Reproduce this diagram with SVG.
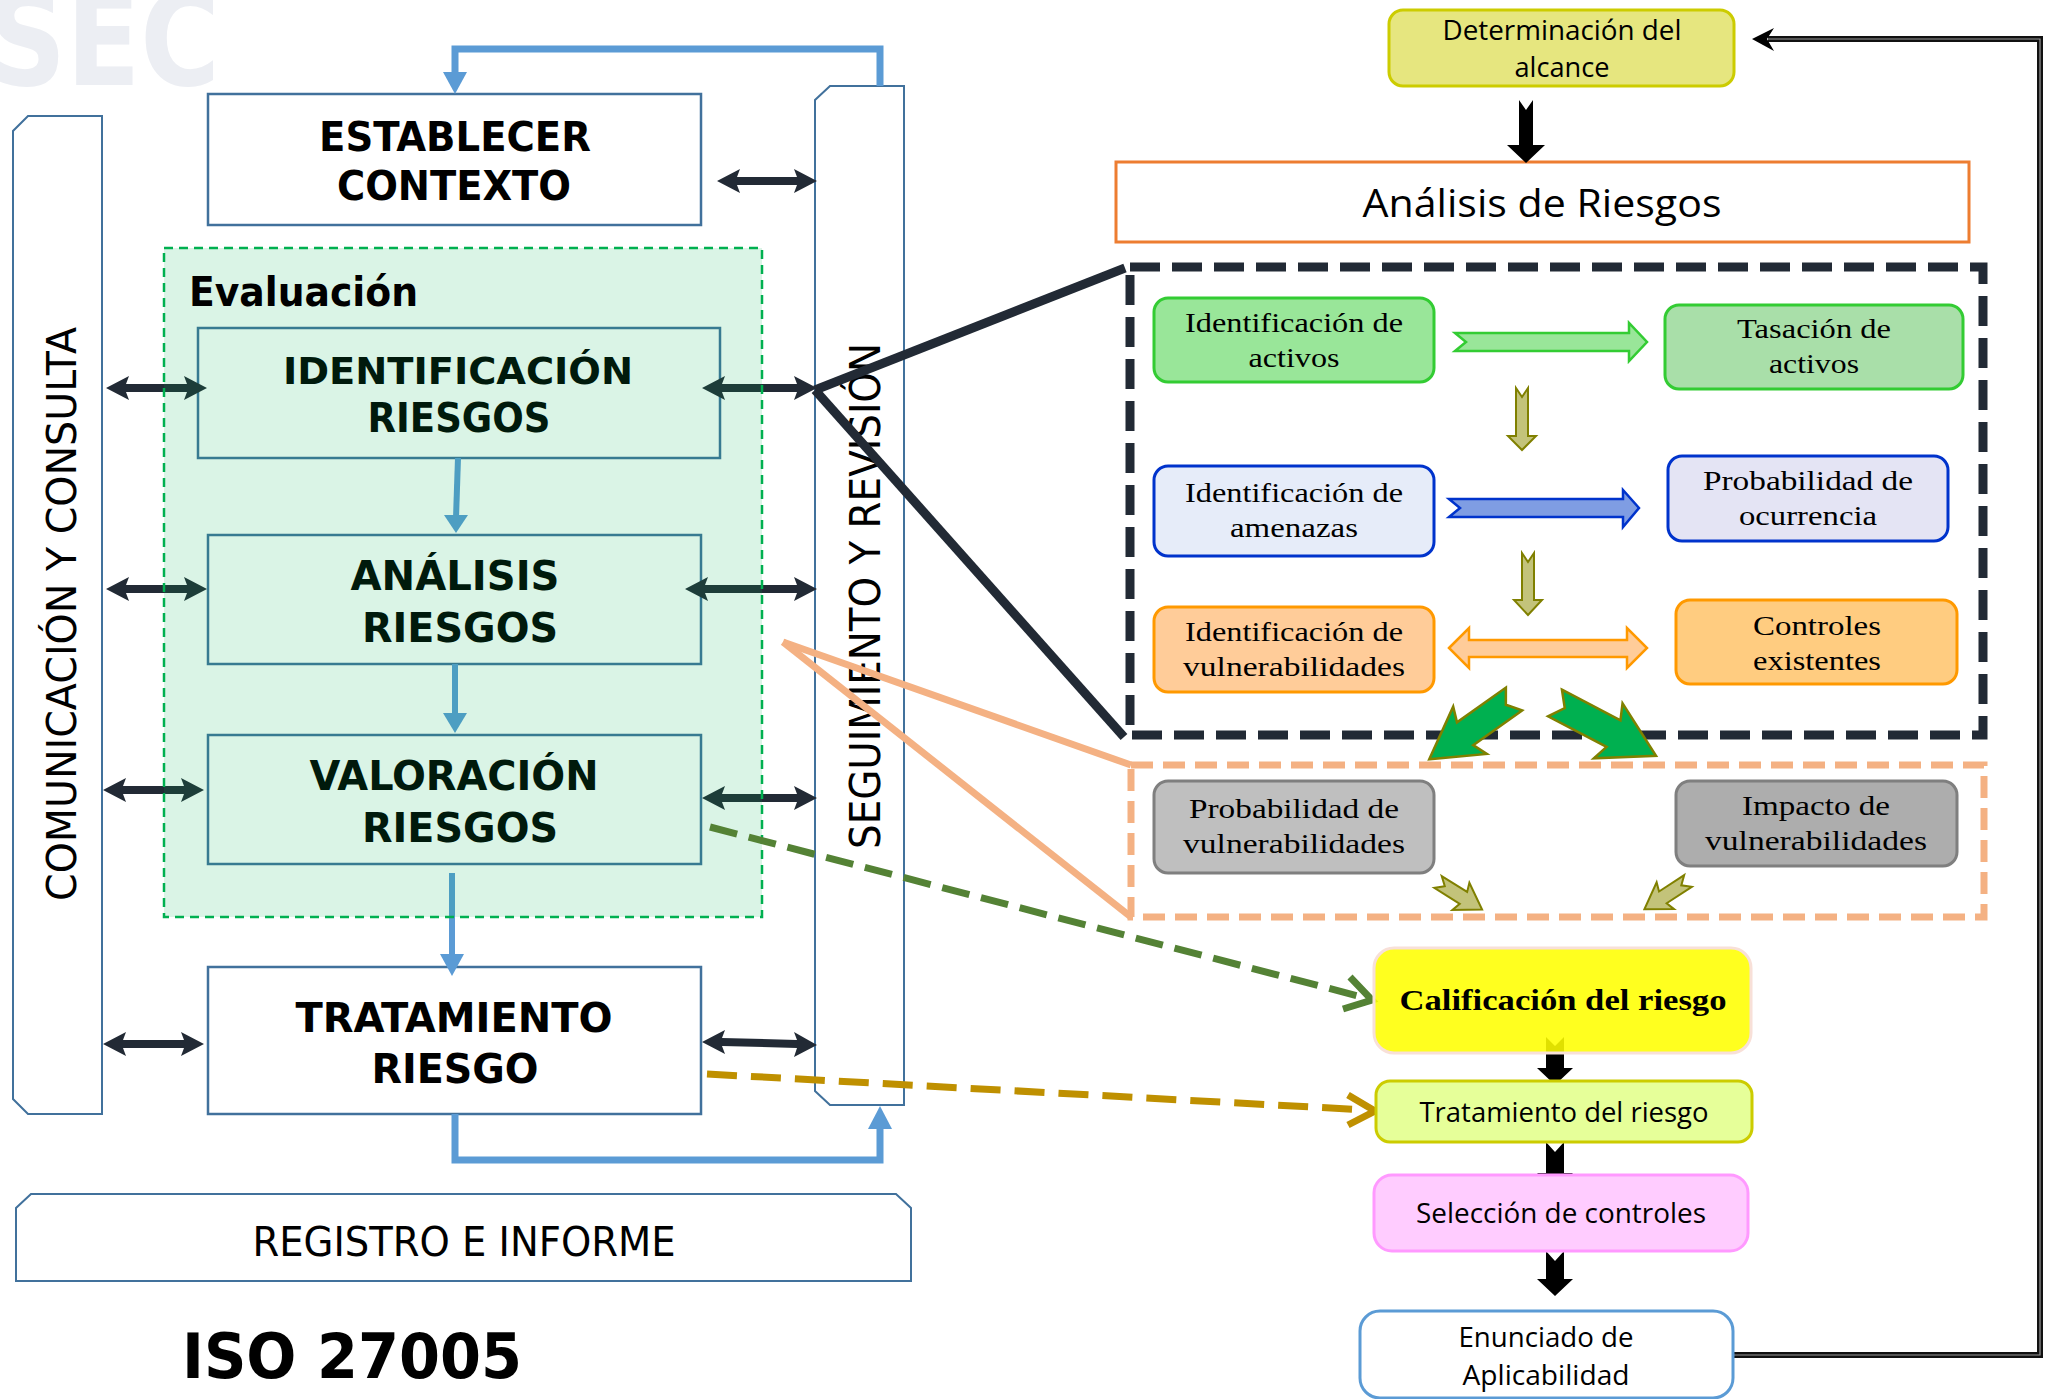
<svg xmlns="http://www.w3.org/2000/svg" width="2048" height="1399" viewBox="0 0 2048 1399">
<style>
.hd{font-family:"DejaVu Sans Condensed","DejaVu Sans",sans-serif;font-weight:bold;fill:#000;text-anchor:middle}
.sn{font-family:"DejaVu Sans",sans-serif;fill:#000;text-anchor:middle}
.cb{font-family:"Open Sans","Liberation Sans",sans-serif;fill:#000;text-anchor:middle}
.sf{font-family:"Liberation Serif",serif;fill:#000;text-anchor:middle;font-size:28px}
.bx{fill:#fff;stroke:#41719c;stroke-width:2.5}
.col{fill:#fff;stroke:#41719c;stroke-width:2}
.dbl{fill:#222a35}
.blue{stroke:#5b9bd5;fill:none}
.bhead{fill:#5b9bd5}
.olive{fill:#c3c37a;stroke:#808000;stroke-width:2}
.garrow{fill:#00b050;stroke:#808000;stroke-width:2.5}
.blk{fill:#000}
</style>

<!-- watermark -->
<text x="-12" y="85" font-family="DejaVu Sans Condensed, DejaVu Sans, sans-serif" font-weight="bold" font-size="130" fill="#eceef3" textLength="232" lengthAdjust="spacingAndGlyphs">SEC</text>

<!-- side columns -->
<g id="comunicacion">
<path class="col" d="M28,116 H102 V1114 H28 L13,1099 V131 Z"/>
<text class="sn" font-size="40" transform="translate(76,614) rotate(-90)" textLength="574" lengthAdjust="spacingAndGlyphs">COMUNICACIÓN Y CONSULTA</text>
</g>
<g id="seguimiento">
<path class="col" d="M830,86 H904 V1105 H830 L815,1091 V100 Z"/>
<text class="sn" font-size="42" transform="translate(880,596) rotate(-90)" textLength="506" lengthAdjust="spacingAndGlyphs">SEGUIMIENTO Y REVISIÓN</text>
</g>

<!-- left process boxes -->
<g id="establecer">
<rect class="bx" x="208" y="94" width="493" height="131"/>
<text class="hd" x="455" y="151" font-size="41" textLength="272" lengthAdjust="spacingAndGlyphs">ESTABLECER</text>
<text class="hd" x="454" y="200" font-size="41" textLength="234" lengthAdjust="spacingAndGlyphs">CONTEXTO</text>
</g>
<g id="identificacion">
<rect class="bx" x="198" y="328" width="522" height="130"/>
<text class="hd" x="458" y="384" font-size="38" textLength="350" lengthAdjust="spacingAndGlyphs">IDENTIFICACIÓN</text>
<text class="hd" x="459" y="432" font-size="40" textLength="183" lengthAdjust="spacingAndGlyphs">RIESGOS</text>
</g>
<g id="analisis">
<rect class="bx" x="208" y="535" width="493" height="129"/>
<text class="hd" x="455" y="590" font-size="41" textLength="209" lengthAdjust="spacingAndGlyphs">ANÁLISIS</text>
<text class="hd" x="460" y="642" font-size="41" textLength="196" lengthAdjust="spacingAndGlyphs">RIESGOS</text>
</g>
<g id="valoracion">
<rect class="bx" x="208" y="735" width="493" height="129"/>
<text class="hd" x="454" y="790" font-size="41" textLength="289" lengthAdjust="spacingAndGlyphs">VALORACIÓN</text>
<text class="hd" x="460" y="842" font-size="41" textLength="196" lengthAdjust="spacingAndGlyphs">RIESGOS</text>
</g>
<g id="tratamiento">
<rect class="bx" x="208" y="967" width="493" height="147"/>
<text class="hd" x="454" y="1032" font-size="41" textLength="317" lengthAdjust="spacingAndGlyphs">TRATAMIENTO</text>
<text class="hd" x="455" y="1083" font-size="41" textLength="167" lengthAdjust="spacingAndGlyphs">RIESGO</text>
</g>
<g id="registro">
<path class="col" d="M31,1194 H896 L911,1208 V1281 H16 V1208 Z"/>
<text class="sn" x="464" y="1256" font-size="40" textLength="423" lengthAdjust="spacingAndGlyphs">REGISTRO E INFORME</text>
</g>
<g id="iso">
<text class="hd" x="182" y="1378" font-size="63" style="text-anchor:start" textLength="340" lengthAdjust="spacingAndGlyphs">ISO 27005</text>
</g>

<!-- left connectors -->
<g id="connectors-left">
<path class="blue" stroke-width="7" d="M880,86 V49 H455 V74"/>
<polygon class="bhead" points="443,72 467,72 455,94"/>
<path class="blue" stroke-width="7" d="M455,1114 V1160 H880 V1127"/>
<polygon class="bhead" points="868,1129 892,1129 880,1106"/>
<path class="blue" stroke-width="6" d="M458,458 L456,518"/>
<polygon class="bhead" points="444,515 468,515 456,533"/>
<path class="blue" stroke-width="6" d="M455,664 V715"/>
<polygon class="bhead" points="443,713 467,713 455,733"/>
<path class="blue" stroke-width="6" d="M452,873 V956"/>
<polygon class="bhead" points="440,954 464,954 452,976"/>

<polygon class="dbl" points="106,388 129,376 126,384 187,384 184,376 207,388 184,400 187,392 126,392 129,400"/>
<polygon class="dbl" points="106,589 129,577 126,585 187,585 184,577 207,589 184,601 187,593 126,593 129,601"/>
<polygon class="dbl" points="103,790 126,778 123,786 184,786 181,778 204,790 181,802 184,794 123,794 126,802"/>
<polygon class="dbl" points="103,1044 126,1032 123,1040 184,1040 181,1032 204,1044 181,1056 184,1048 123,1048 126,1056"/>
<polygon class="dbl" points="717,181 740,169 737,177 797,177 794,169 817,181 794,193 797,185 737,185 740,193"/>
<polygon class="dbl" points="702,388 725,376 722,384 797,384 794,376 817,388 794,400 797,392 722,392 725,400"/>
<polygon class="dbl" points="685,589 708,577 705,585 797,585 794,577 817,589 794,601 797,593 705,593 708,601"/>
<polygon class="dbl" points="702,798 725,786 722,794 797,794 794,786 817,798 794,810 797,802 722,802 725,810"/>
<polygon class="dbl" points="702,1042 725,1030 722,1038 797,1040 794,1032 817,1045 794,1057 797,1048 722,1046 725,1054"/>
</g>

<!-- evaluacion overlay -->
<g id="evaluacion">
<rect x="164" y="248" width="598" height="669" fill="#00b050" fill-opacity="0.145" stroke="#00b050" stroke-width="2.5" stroke-dasharray="9 6"/>
<text class="hd" x="189" y="306" font-size="40" style="text-anchor:start" textLength="229" lengthAdjust="spacingAndGlyphs">Evaluación</text>
</g>

<!-- right side -->
<g id="determinacion">
<rect x="1389" y="10" width="345" height="76" rx="14" fill="#e6e67f" stroke="#cccc00" stroke-width="3"/>
<text class="cb" x="1562" y="40" font-size="28" textLength="239" lengthAdjust="spacingAndGlyphs">Determinación del</text>
<text class="cb" x="1562" y="77" font-size="28" textLength="95" lengthAdjust="spacingAndGlyphs">alcance</text>
</g>
<g id="analisis-riesgos">
<rect x="1116" y="162" width="853" height="80" fill="#fff" stroke="#ed7d31" stroke-width="3"/>
<text class="cb" x="1542" y="217" font-size="39" textLength="359" lengthAdjust="spacingAndGlyphs">Análisis de Riesgos</text>
</g>

<!-- connectors right -->
<g id="connectors-right">
<polygon class="blk" points="1519,100 1526,110 1533,100 1533,145 1545,145 1526,163 1507,145 1519,145"/>
<path d="M1733,1355 H2040 V39 H1768" fill="none" stroke="#111" stroke-width="6"/>
<path d="M1733,1355 H2040 V39 H1768" fill="none" stroke="#999" stroke-width="1.2"/>
<polygon class="blk" points="1752,39 1774,28 1767,39 1774,51"/>
<line x1="815" y1="390" x2="1125" y2="268" stroke="#222a35" stroke-width="9"/>
<line x1="815" y1="390" x2="1124" y2="737" stroke="#222a35" stroke-width="9"/>
<line x1="783" y1="642" x2="1131" y2="765" stroke="#f4b183" stroke-width="7"/>
<line x1="783" y1="642" x2="1131" y2="917" stroke="#f4b183" stroke-width="7"/>
<line x1="710" y1="827" x2="1362" y2="997" stroke="#548235" stroke-width="7" stroke-dasharray="28 12"/>
<polyline points="1350,977 1372,1000 1343,1009" fill="none" stroke="#548235" stroke-width="7"/>
<line x1="707" y1="1074" x2="1366" y2="1110" stroke="#bf9000" stroke-width="7" stroke-dasharray="30 14"/>
<polyline points="1348,1095 1375,1111 1348,1125" fill="none" stroke="#bf9000" stroke-width="7"/>
<polygon class="blk" points="1546,1037 1555,1046 1564,1037 1564,1068 1573,1068 1555,1085 1537,1068 1546,1068"/>
<polygon class="blk" points="1546,1142 1555,1152 1564,1142 1564,1173 1573,1173 1555,1191 1537,1173 1546,1173"/>
<polygon class="blk" points="1546,1251 1555,1261 1564,1251 1564,1279 1573,1279 1555,1296 1537,1279 1546,1279"/>
</g>

<!-- analysis detail -->
<g id="detalle">
<rect x="1130" y="267" width="853" height="468" fill="none" stroke="#222a35" stroke-width="9" stroke-dasharray="30 12"/>
</g>
<g id="id-activos">
<rect x="1154" y="298" width="280" height="84" rx="14" fill="#99e699" stroke="#33cc33" stroke-width="3"/>
<text class="sf" x="1294" y="332" textLength="218" lengthAdjust="spacingAndGlyphs">Identificación de</text>
<text class="sf" x="1294" y="367" textLength="91" lengthAdjust="spacingAndGlyphs">activos</text>
</g>
<g id="tasacion">
<rect x="1665" y="305" width="298" height="84" rx="14" fill="#a9dfa9" stroke="#33cc33" stroke-width="3"/>
<text class="sf" x="1814" y="338" textLength="154" lengthAdjust="spacingAndGlyphs">Tasación de</text>
<text class="sf" x="1814" y="373" textLength="90" lengthAdjust="spacingAndGlyphs">activos</text>
</g>
<g id="id-amenazas">
<rect x="1154" y="466" width="280" height="90" rx="14" fill="#e6ecf9" stroke="#0033cc" stroke-width="3"/>
<text class="sf" x="1294" y="502" textLength="218" lengthAdjust="spacingAndGlyphs">Identificación de</text>
<text class="sf" x="1294" y="537" textLength="128" lengthAdjust="spacingAndGlyphs">amenazas</text>
</g>
<g id="prob-ocurrencia">
<rect x="1668" y="456" width="280" height="85" rx="14" fill="#e4e4f4" stroke="#0033cc" stroke-width="3"/>
<text class="sf" x="1808" y="490" textLength="210" lengthAdjust="spacingAndGlyphs">Probabilidad de</text>
<text class="sf" x="1808" y="525" textLength="138" lengthAdjust="spacingAndGlyphs">ocurrencia</text>
</g>
<g id="id-vulnerabilidades">
<rect x="1154" y="607" width="280" height="85" rx="14" fill="#ffcc99" stroke="#ff9900" stroke-width="3"/>
<text class="sf" x="1294" y="641" textLength="218" lengthAdjust="spacingAndGlyphs">Identificación de</text>
<text class="sf" x="1294" y="676" textLength="222" lengthAdjust="spacingAndGlyphs">vulnerabilidades</text>
</g>
<g id="controles">
<rect x="1676" y="600" width="281" height="84" rx="14" fill="#ffcc80" stroke="#ff9900" stroke-width="3"/>
<text class="sf" x="1817" y="635" textLength="128" lengthAdjust="spacingAndGlyphs">Controles</text>
<text class="sf" x="1817" y="670" textLength="128" lengthAdjust="spacingAndGlyphs">existentes</text>
</g>
<g id="detail-arrows">
<polygon points="1455,333 1629,333 1629,323 1647,342 1629,361 1629,351 1455,351 1466,342" fill="#99e699" stroke="#33cc33" stroke-width="2.5"/>
<polygon points="1449,499 1623,499 1623,490 1639,508 1623,527 1623,517 1449,517 1460,508" fill="#7f9de3" stroke="#0033cc" stroke-width="2.5"/>
<polygon points="1449,648 1469,628 1469,640 1627,640 1627,628 1647,648 1627,668 1627,657 1469,657 1469,668" fill="#ffcc99" stroke="#ff9900" stroke-width="2.5"/>
<polygon class="olive" points="1516,388 1522,397 1528,388 1528,436 1536,436 1522,450 1508,436 1516,436"/>
<polygon class="olive" points="1522,553 1528,562 1534,553 1534,600 1542,600 1528,615 1514,600 1522,600"/>
<polygon class="garrow" transform="translate(1514,699) rotate(144.6)" points="0,-14 60,-14 54,-29 104,0 54,29 60,14 0,14 10,0"/>
<polygon class="garrow" transform="translate(1555,703) rotate(27.6)" points="0,-15 66,-15 60,-31 114,0 60,31 66,15 0,15 11,0"/>
</g>

<g id="impacto-zona">
<rect x="1131" y="765" width="853" height="152" fill="none" stroke="#f4b183" stroke-width="7" stroke-dasharray="22 10"/>
</g>
<g id="prob-vuln">
<rect x="1154" y="781" width="280" height="92" rx="14" fill="#bfbfbf" stroke="#7f7f7f" stroke-width="3"/>
<text class="sf" x="1294" y="818" textLength="210" lengthAdjust="spacingAndGlyphs">Probabilidad de</text>
<text class="sf" x="1294" y="853" textLength="222" lengthAdjust="spacingAndGlyphs">vulnerabilidades</text>
</g>
<g id="impacto-vuln">
<rect x="1676" y="781" width="281" height="85" rx="14" fill="#adadad" stroke="#7f7f7f" stroke-width="3"/>
<text class="sf" x="1816" y="815" textLength="148" lengthAdjust="spacingAndGlyphs">Impacto de</text>
<text class="sf" x="1816" y="850" textLength="222" lengthAdjust="spacingAndGlyphs">vulnerabilidades</text>
</g>
<g id="small-arrows">
<polygon class="olive" transform="translate(1438,882) rotate(32)" points="0,-7 30,-7 27,-16 52,0 27,16 30,7 0,7 8,0"/>
<polygon class="olive" transform="translate(1688,881) rotate(147)" points="0,-7 30,-7 27,-16 52,0 27,16 30,7 0,7 8,0"/>
</g>

<g id="calificacion">
<rect x="1374" y="948" width="377" height="105" rx="20" fill="#ffff00" fill-opacity="0.88" stroke="#f8e0d8" stroke-width="3"/>
<text x="1563" y="1010" font-family="Liberation Serif, serif" font-weight="bold" font-size="30" text-anchor="middle" textLength="327" lengthAdjust="spacingAndGlyphs">Calificación del riesgo</text>
</g>
<g id="tratamiento-riesgo">
<rect x="1376" y="1081" width="376" height="61" rx="14" fill="#e6ff99" stroke="#cccc00" stroke-width="3"/>
<text class="cb" x="1564" y="1122" font-size="28" textLength="289" lengthAdjust="spacingAndGlyphs">Tratamiento del riesgo</text>
</g>
<g id="seleccion">
<rect x="1374" y="1175" width="374" height="76" rx="18" fill="#ffccff" stroke="#ff99ff" stroke-width="3"/>
<text class="cb" x="1561" y="1223" font-size="28" textLength="290" lengthAdjust="spacingAndGlyphs">Selección de controles</text>
</g>
<g id="enunciado">
<rect x="1360" y="1311" width="373" height="87" rx="20" fill="#fff" stroke="#5b9bd5" stroke-width="3"/>
<text class="cb" x="1546" y="1347" font-size="28" textLength="175" lengthAdjust="spacingAndGlyphs">Enunciado de</text>
<text class="cb" x="1546" y="1385" font-size="28" textLength="167" lengthAdjust="spacingAndGlyphs">Aplicabilidad</text>
</g>
</svg>
